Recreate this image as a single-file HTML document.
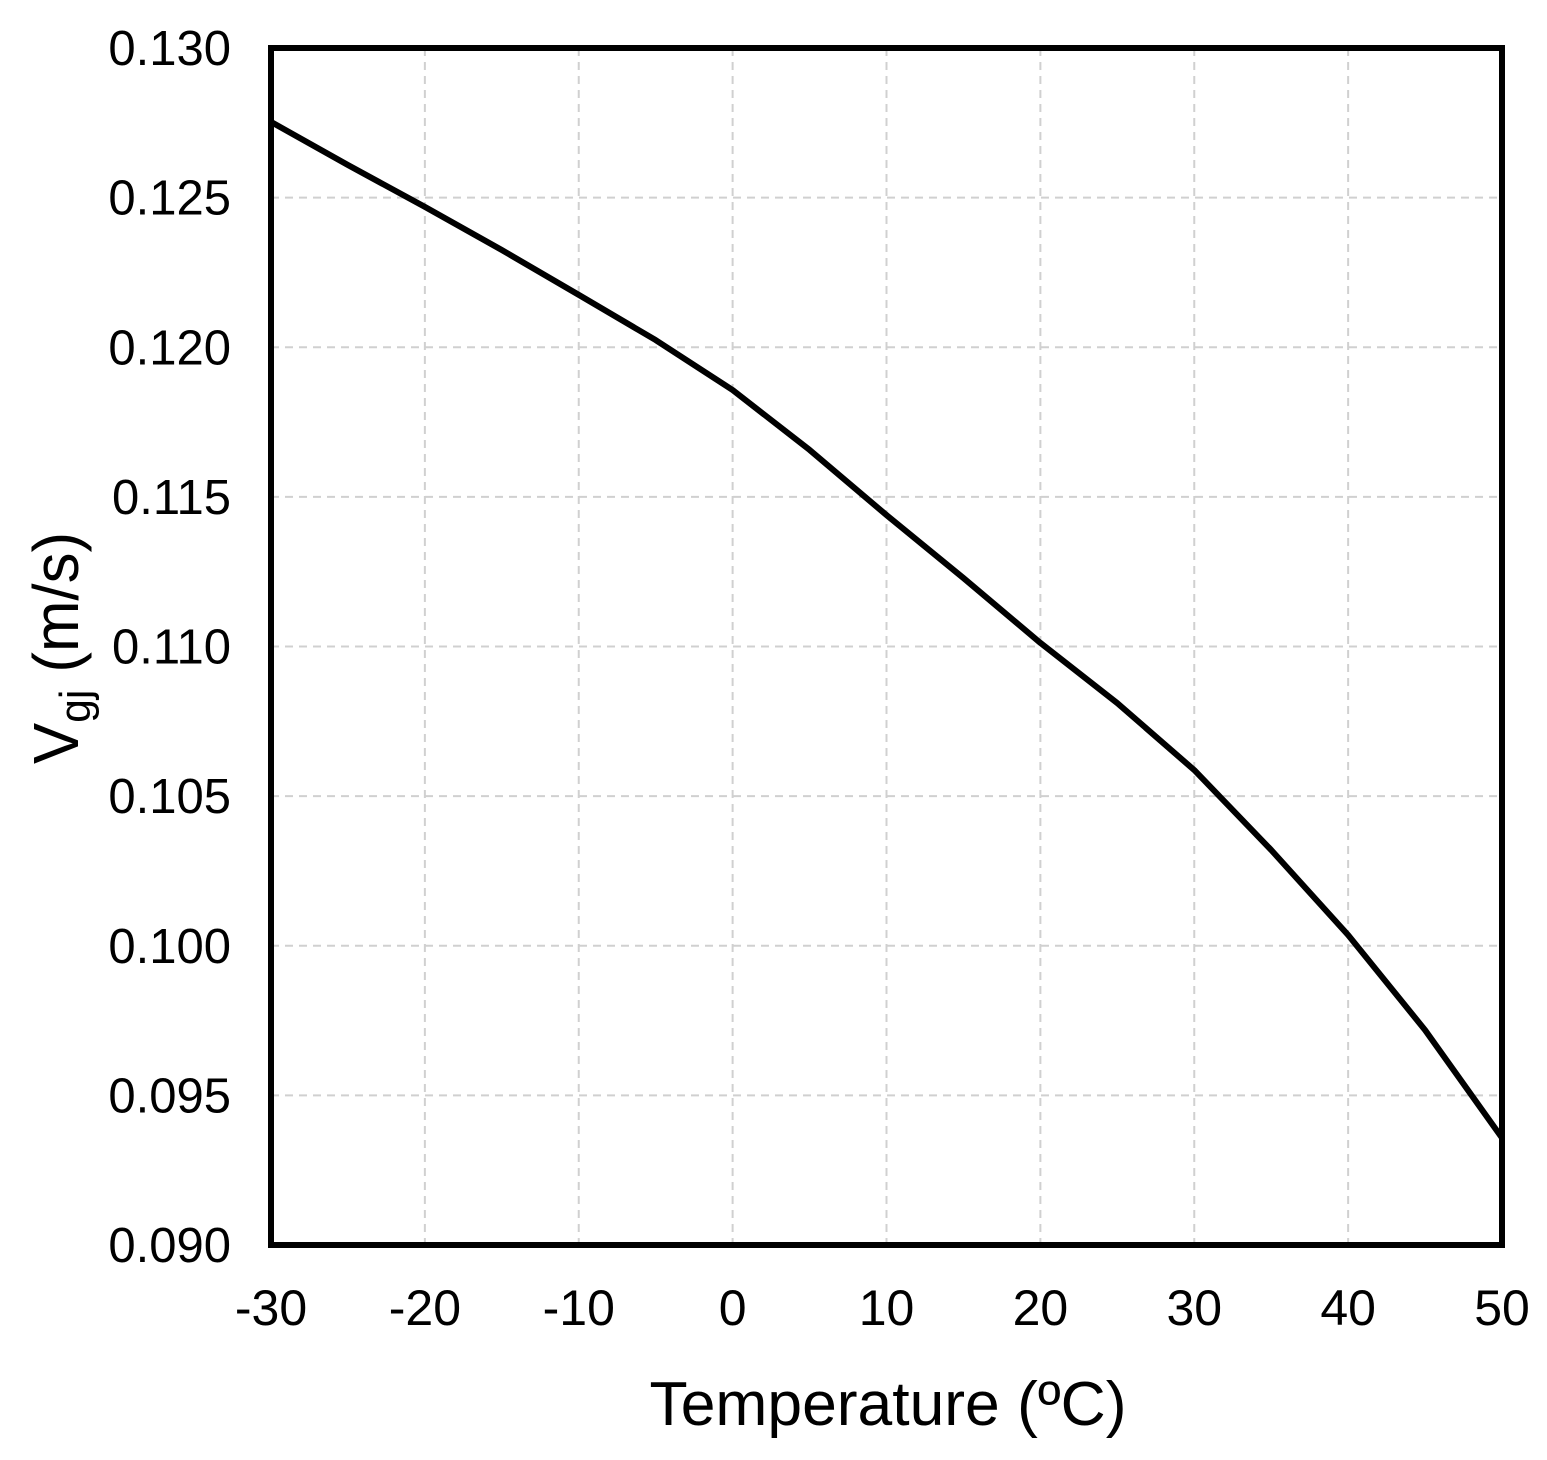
<!DOCTYPE html>
<html><head><meta charset="utf-8"><style>
html,body{margin:0;padding:0;background:#fff}
svg{display:block;font-family:"Liberation Sans",Arial,sans-serif}
</style></head><body>
<svg id="chart" width="1547" height="1460" viewBox="0 0 1547 1460">
<g id="grid"></g>
<path id="curve" fill="none" stroke="#000" stroke-width="6" stroke-linejoin="round"></path>
<rect x="271" y="48" width="1231" height="1197" fill="none" stroke="#000" stroke-width="6"/>
<g id="xticks"></g>
<g id="yticks"></g>
<text x="888" y="1425" text-anchor="middle" font-size="62" textLength="477" lengthAdjust="spacingAndGlyphs">Temperature (ºC)</text>
<text transform="translate(78,648) rotate(-90)" text-anchor="middle" font-size="64" textLength="232" lengthAdjust="spacingAndGlyphs">V<tspan font-size="44" dy="12">gj</tspan><tspan dy="-12"> (m/s)</tspan></text>
</svg>
<script>
const xTicks=[-30,-20,-10,0,10,20,30,40,50];
const yTicks=[0.090,0.095,0.100,0.105,0.110,0.115,0.120,0.125,0.130];
const temps=[-30,-25,-20,-15,-10,-5,0,5,10,15,20,25,30,35,40,45,50];
const vgj=[0.12753,0.12609,0.12469,0.12325,0.12175,0.12024,0.11857,0.11657,0.11439,0.11229,0.11012,0.10811,0.10587,0.1032,0.10036,0.09718,0.09358];
const X0=271,X1=1502,Y0=1245,Y1=48;
const xs=v=>X0+(v+30)/80*(X1-X0);
const ys=v=>Y0-(v-0.09)/0.04*(Y0-Y1);
const NS="http://www.w3.org/2000/svg";
const grid=document.getElementById('grid'),xt=document.getElementById('xticks'),yt=document.getElementById('yticks');
xTicks.forEach(t=>{
 const l=document.createElementNS(NS,'line');
 
 
 l.setAttribute('x1',xs(t));l.setAttribute('x2',xs(t));l.setAttribute('y1',Y1);l.setAttribute('y2',Y0);
 l.setAttribute('stroke','#d0d0d0');l.setAttribute('stroke-width','2');l.setAttribute('stroke-dasharray','8 6');
 grid.appendChild(l);
 const tx=document.createElementNS(NS,'text');
 
 
 tx.setAttribute('x',xs(t));tx.setAttribute('y',1325);tx.setAttribute('text-anchor','middle');tx.setAttribute('font-size','50');
 tx.textContent=String(t);xt.appendChild(tx);
});
yTicks.forEach(t=>{
 const l=document.createElementNS(NS,'line');
 
 
 l.setAttribute('x1',X0);l.setAttribute('x2',X1);l.setAttribute('y1',ys(t));l.setAttribute('y2',ys(t));
 l.setAttribute('stroke','#d0d0d0');l.setAttribute('stroke-width','2');l.setAttribute('stroke-dasharray','8 6');
 grid.appendChild(l);
 const tx=document.createElementNS(NS,'text');
 
 
 tx.setAttribute('x',231);tx.setAttribute('y',ys(t)+17);tx.setAttribute('text-anchor','end');tx.setAttribute('font-size','49');
 tx.textContent=t.toFixed(3);yt.appendChild(tx);
});
let d='';
temps.forEach((t,i)=>{d+=(i?'L':'M')+xs(t).toFixed(1)+','+ys(vgj[i]).toFixed(1);});
document.getElementById('curve').setAttribute('d',d);
</script>
</body></html>
